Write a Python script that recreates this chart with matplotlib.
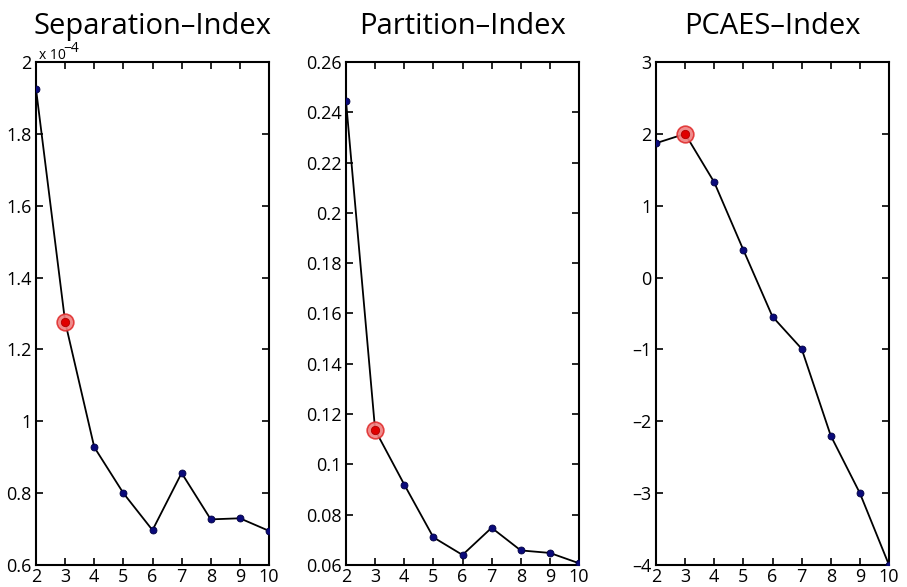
import matplotlib
matplotlib.use("Agg")
from matplotlib import pyplot as plt
from matplotlib.ticker import FuncFormatter
import numpy as np

plt.rcParams['font.family'] = ['Open Sans', 'DejaVu Sans']

clusters = [2, 3, 4, 5, 6, 7, 8, 9, 10]
# separation index in units of 1e-4
sep_vals = [1.925, 1.277, 0.928, 0.80, 0.697, 0.856, 0.727, 0.730, 0.695]
part_vals = [0.2445, 0.1137, 0.092, 0.071, 0.064, 0.0748, 0.0658, 0.0648, 0.0607]
pcaes_vals = [1.87, 2.0, 1.326, 0.384, -0.544, -0.99, -2.2, -3.0, -4.0]
best_c = 3

titles = ['Separation\u2013Index', 'Partition\u2013Index', 'PCAES\u2013Index']
ylims = [(0.6, 2.0), (0.06, 0.26), (-4, 3)]
yticks = [np.arange(0.6, 2.01, 0.2), np.arange(0.06, 0.261, 0.02), np.arange(-4, 3.1, 1)]
series = [sep_vals, part_vals, pcaes_vals]
lefts = [36, 346, 656]

W, H = 907, 587
fig = plt.figure(figsize=(W / 100, H / 100), dpi=100)

fmt = FuncFormatter(lambda v, p: ('%g' % round(v, 4)).replace('-', '\u2013'))

for i in range(3):
	ax = fig.add_axes([lefts[i] / W, 22 / H, 233 / W, 503 / H])
	vals = series[i]
	ax.plot(clusters, vals, color='black', lw=1.3, zorder=2)
	ax.plot(clusters, vals, 'o', color='#0a0a7a', ms=5, mec='#000040', mew=0.6, zorder=3)
	k = clusters.index(best_c)
	ax.plot(best_c, vals[k], 'o', color='#f08080', ms=12, mec='#e03030', mew=1.2, zorder=4, alpha=0.9)
	ax.plot(best_c, vals[k], 'o', color='#e00000', ms=6, mec='#b00000', mew=0.6, zorder=5)
	ax.set_xlim(2, 10)
	ax.set_ylim(*ylims[i])
	ax.set_xticks(clusters)
	ax.set_yticks(yticks[i])
	ax.yaxis.set_major_formatter(fmt)
	ax.tick_params(direction='in', length=5, width=1.2, top=True, right=True, labelsize=13, pad=3)
	ax.tick_params(axis='x', pad=2)
	for s in ax.spines.values():
		s.set_linewidth(1.5)
	ax.set_title(titles[i], fontsize=21, pad=20)
	if i == 0:
		ax.text(0.012, 0.998, 'x 10', transform=ax.transAxes, fontsize=10, va='bottom', ha='left')
		ax.text(0.115, 1.012, '\u22124', transform=ax.transAxes, fontsize=10, va='bottom', ha='left')

fig.savefig('out.png', dpi=100)
